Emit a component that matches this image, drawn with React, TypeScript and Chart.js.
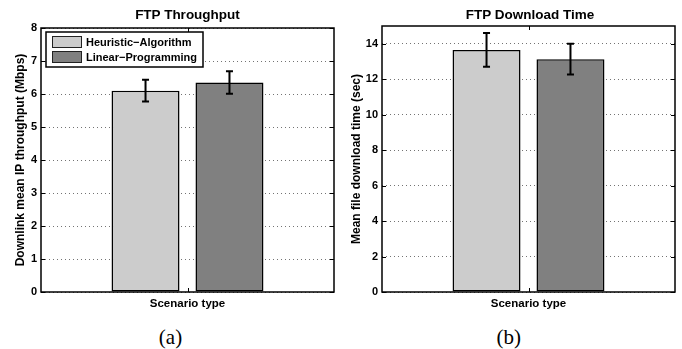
import React, { useEffect, useRef } from 'react';
import { Chart, registerables } from 'chart.js';

Chart.register(...registerables);

const FONT = '"Liberation Sans", Arial, Helvetica, sans-serif';
Chart.defaults.font.family = FONT;

// ---- data ----
const categories = [''];
const seriesLabels = ['Heuristic\u2212Algorithm', 'Linear\u2212Programming'];
const seriesColors = ['#cccccc', '#808080'];

const throughputMeans = [6.1, 6.35];
const throughputErrors = [0.33, 0.34];
const throughputTicks = [0, 1, 2, 3, 4, 5, 6, 7, 8];
const throughputMax = 8;

const downloadMeans = [13.65, 13.13];
const downloadErrors = [0.95, 0.87];
const downloadTicks = [0, 2, 4, 6, 8, 10, 12, 14];
const downloadMax = 15;

const xTitle = 'Scenario type';
const titles = ['FTP Throughput', 'FTP Download Time'];
const yTitles = ['Downlink mean IP throughput (Mbps)', 'Mean file download time (sec)'];
const captions = ['(a)', '(b)'];

// ---- plugins ----
const errorBarPlugin = {
  id: 'errorBars',
  afterDatasetsDraw(chart: any) {
    const ctx = chart.ctx;
    const y = chart.scales.y;
    ctx.save();
    ctx.strokeStyle = '#000';
    ctx.lineWidth = 2;
    chart.data.datasets.forEach((ds: any, di: number) => {
      const meta = chart.getDatasetMeta(di);
      meta.data.forEach((bar: any, i: number) => {
        const v = ds.data[i];
        const e = ds.errors[i];
        const yTop = y.getPixelForValue(v + e);
        const yBot = y.getPixelForValue(v - e);
        const x = bar.x;
        ctx.beginPath();
        ctx.moveTo(x, yTop);
        ctx.lineTo(x, yBot);
        ctx.moveTo(x - 3.5, yTop);
        ctx.lineTo(x + 3.5, yTop);
        ctx.moveTo(x - 3.5, yBot);
        ctx.lineTo(x + 3.5, yBot);
        ctx.stroke();
      });
    });
    ctx.restore();
  },
};

const framePlugin = {
  id: 'frame',
  afterDraw(chart: any) {
    const { ctx, chartArea } = chart;
    const { left, right, top, bottom } = chartArea;
    const y = chart.scales.y;
    ctx.save();
    ctx.strokeStyle = '#000';
    ctx.lineWidth = 1;
    ctx.beginPath();
    y.ticks.forEach((t: any) => {
      const py = Math.round(y.getPixelForValue(t.value)) + 0.5;
      ctx.moveTo(left, py);
      ctx.lineTo(left + 4, py);
      ctx.moveTo(right, py);
      ctx.lineTo(right - 4, py);
    });
    const cx = Math.round((left + right) / 2) + 0.5;
    ctx.moveTo(cx, bottom);
    ctx.lineTo(cx, bottom - 4);
    ctx.moveTo(cx, top);
    ctx.lineTo(cx, top + 4);
    ctx.stroke();
    ctx.lineWidth = 1.5;
    ctx.strokeRect(left, top, right - left, bottom - top);
    ctx.restore();
  },
};

const boxLegendPlugin = {
  id: 'boxLegend',
  afterDraw(chart: any, _args: any, opts: any) {
    if (!opts || !opts.show) return;
    const { ctx, chartArea } = chart;
    const bx = chartArea.left + 5;
    const by = chartArea.top + 4;
    const bw = 157;
    const bh = 35;
    ctx.save();
    ctx.fillStyle = '#fff';
    ctx.fillRect(bx, by, bw, bh);
    ctx.strokeStyle = '#000';
    ctx.lineWidth = 1.5;
    ctx.strokeRect(bx, by, bw, bh);
    ctx.font = 'bold 11px ' + FONT;
    ctx.textBaseline = 'middle';
    ctx.textAlign = 'left';
    chart.data.datasets.forEach((ds: any, i: number) => {
      const sy = by + 4 + i * 15;
      ctx.fillStyle = ds.backgroundColor;
      ctx.fillRect(bx + 6, sy, 30, 11.5);
      ctx.strokeStyle = '#222';
      ctx.lineWidth = 1;
      ctx.strokeRect(bx + 6.5, sy + 0.5, 29, 11);
      ctx.fillStyle = '#000';
      ctx.fillText(ds.label, bx + 40, sy + 6.5);
    });
    ctx.restore();
  },
};

function buildConfig(
  means: number[],
  errors: number[],
  ticks: number[],
  yMax: number,
  yTitle: string,
  yTitlePad: number,
  topPad: number,
  showLegend: boolean
): any {
  return {
    type: 'bar',
    data: {
      labels: categories,
      datasets: seriesLabels.map((label, i) => ({
        label,
        data: [means[i]],
        errors: [errors[i]],
        backgroundColor: seriesColors[i],
        borderColor: '#000',
        borderWidth: 1.5,
        borderSkipped: false,
        categoryPercentage: 0.573,
        barPercentage: 0.81,
      })),
    },
    options: {
      responsive: false,
      animation: false,
      devicePixelRatio: 1,
      layout: { padding: { top: topPad, right: 7, bottom: 0, left: 0 } },
      plugins: {
        legend: { display: false },
        tooltip: { enabled: false },
        title: { display: false },
        boxLegend: { show: showLegend },
      },
      scales: {
        x: {
          type: 'category',
          grid: { display: false },
          border: { display: false },
          ticks: { display: false },
          title: {
            display: true,
            text: xTitle,
            color: '#000',
            font: { size: 11.5, weight: 'bold' },
            padding: { top: 0, bottom: 4 },
          },
          afterFit: (s: any) => {
            s.height = 23;
          },
        },
        y: {
          min: 0,
          max: yMax,
          afterBuildTicks: (s: any) => {
            s.ticks = ticks.map((v) => ({ value: v }));
          },
          ticks: {
            color: '#000',
            font: { size: 11, weight: 'bold' },
            padding: 4,
          },
          grid: { color: 'rgba(0,0,0,0.55)', lineWidth: 1, drawTicks: false },
          border: { display: false, dash: [1, 3] },
          title: {
            display: true,
            text: yTitle,
            color: '#000',
            font: { size: 12, weight: 'bold' },
            padding: { top: yTitlePad, bottom: 0 },
          },
          afterFit: (s: any) => {
            s.width = 41;
          },
        },
      },
    },
    plugins: [errorBarPlugin, framePlugin, boxLegendPlugin],
  };
}

function Panel(props: { left: number; which: number }) {
  const ref = useRef<HTMLCanvasElement | null>(null);
  useEffect(() => {
    const cfg =
      props.which === 0
        ? buildConfig(throughputMeans, throughputErrors, throughputTicks, throughputMax, yTitles[0], 13, 28, true)
        : buildConfig(downloadMeans, downloadErrors, downloadTicks, downloadMax, yTitles[1], 8, 26, false);
    const chart = new Chart(ref.current as HTMLCanvasElement, cfg);
    return () => chart.destroy();
  }, []);
  return (
    <canvas
      ref={ref}
      width={341}
      height={315}
      style={{ position: 'absolute', left: props.left, top: 0, width: 341, height: 315 }}
    />
  );
}

const titleStyle = (cx: number): React.CSSProperties => ({
  position: 'absolute',
  left: cx - 120,
  width: 240,
  top: 7,
  height: 16,
  lineHeight: '16px',
  textAlign: 'center',
  fontFamily: FONT,
  fontWeight: 'bold',
  fontSize: 13.5,
  color: '#000',
  whiteSpace: 'nowrap',
});

const captionStyle = (cx: number): React.CSSProperties => ({
  position: 'absolute',
  left: cx - 40,
  width: 80,
  top: 325,
  height: 24,
  lineHeight: '24px',
  textAlign: 'center',
  fontFamily: '"Liberation Serif", "Times New Roman", serif',
  fontSize: 21,
  color: '#000',
});

export default function App() {
  return (
    <div
      style={{
        position: 'fixed',
        left: 0,
        top: 0,
        width: 682,
        height: 349,
        background: '#fff',
        overflow: 'hidden',
      }}
    >
      <Panel left={0} which={0} />
      <Panel left={341} which={1} />
      <div style={titleStyle(187.5)}>{titles[0]}</div>
      <div style={titleStyle(530)}>{titles[1]}</div>
      <div style={captionStyle(170.5)}>{captions[0]}</div>
      <div style={captionStyle(508.8)}>{captions[1]}</div>
    </div>
  );
}
